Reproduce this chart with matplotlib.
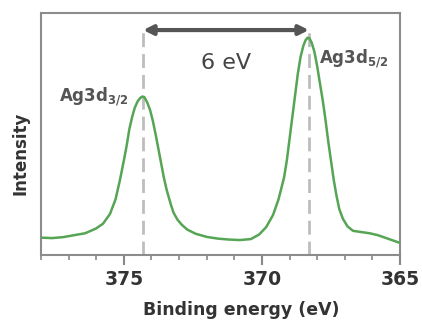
import matplotlib
matplotlib.use("Agg")
import matplotlib.pyplot as plt

plt.rcParams['font.family'] = ['DejaVu Sans']

# XPS Ag 3d spectrum
energy = [378.0, 377.6, 377.2, 376.8, 376.4, 376.0, 375.75, 375.5, 375.3, 375.14,
          375.0, 374.9, 374.8, 374.7, 374.6, 374.5, 374.4, 374.33, 374.25, 374.15,
          374.05, 373.95, 373.85, 373.75, 373.65, 373.55, 373.45, 373.3, 373.2,
          373.05, 372.9, 372.7, 372.4, 372.0, 371.6, 371.2, 370.8, 370.4, 370.1,
          369.85, 369.6, 369.4, 369.2, 369.1, 369.0, 368.9, 368.8, 368.7, 368.6,
          368.5, 368.42, 368.35, 368.28, 368.2, 368.1, 368.0, 367.9, 367.8, 367.7,
          367.6, 367.5, 367.4, 367.3, 367.2, 367.07, 366.9, 366.7, 366.4, 366.1,
          365.8, 365.5, 365.25, 365.0]
intensity = [0.072, 0.070, 0.074, 0.082, 0.090, 0.110, 0.130, 0.170, 0.230, 0.310,
             0.390, 0.450, 0.520, 0.570, 0.610, 0.635, 0.650, 0.655, 0.652, 0.630,
             0.600, 0.555, 0.500, 0.440, 0.380, 0.320, 0.270, 0.210, 0.175,
             0.145, 0.125, 0.105, 0.088, 0.075, 0.068, 0.064, 0.062, 0.066, 0.085,
             0.115, 0.165, 0.230, 0.320, 0.390, 0.480, 0.570, 0.660, 0.750, 0.820,
             0.865, 0.888, 0.898, 0.896, 0.878, 0.840, 0.780, 0.710, 0.640, 0.560,
             0.470, 0.390, 0.310, 0.245, 0.190, 0.150, 0.118, 0.100, 0.095, 0.090,
             0.082, 0.070, 0.060, 0.050]

peak_32 = 374.3
peak_52 = 368.3
xticks = [375, 370, 365]

fig = plt.figure(figsize=(4.22, 3.2), dpi=100)
ax = fig.add_axes([0.097, 0.203, 0.851, 0.756])

ax.plot(energy, intensity, color='#55a555', lw=1.8, zorder=3)

# dashed guides at the peak positions
for e in (peak_32, peak_52):
    ax.plot([e, e], [0, 0.93], color='#bdbdbd', lw=2.0, ls=(0, (5, 2.5)), zorder=2)

# separation arrow
ax.annotate('', xy=(peak_52, 0.93), xytext=(peak_32, 0.93),
            arrowprops=dict(arrowstyle='<|-|>', color='#555555', lw=3,
                            mutation_scale=14, shrinkA=0, shrinkB=0))
ax.text((peak_32 + peak_52) / 2, 0.795, '%d eV' % round(peak_32 - peak_52),
        ha='center', va='center', fontsize=16, color='#444444')

ax.text(peak_32 + 0.55, 0.655, r'Ag3d$_{\mathregular{3/2}}$', ha='right', va='center',
        fontsize=12, color='#555555', fontweight='bold')
ax.text(peak_52 - 0.35, 0.81, r'Ag3d$_{\mathregular{5/2}}$', ha='left', va='center',
        fontsize=12, color='#555555', fontweight='bold')

ax.set_xlim(378, 365)
ax.set_ylim(0, 1)
ax.set_xticks(xticks)
ax.set_xticks(range(365, 379), minor=True)
ax.set_yticks([])
ax.tick_params(axis='x', which='major', length=7, width=1.5, color='#888888',
               labelsize=13.5, labelcolor='#333333', pad=4)
ax.tick_params(axis='x', which='minor', length=3.5, width=1.2, color='#888888')
for lbl in ax.get_xticklabels():
    lbl.set_fontweight('bold')
for sp in ax.spines.values():
    sp.set_color('#8c8c8c')
    sp.set_linewidth(1.5)

ax.set_xlabel('Binding energy (eV)', fontsize=12.5, fontweight='bold', color='#333333')
ax.xaxis.set_label_coords(0.557, -0.19)
ax.set_ylabel('Intensity', fontsize=12, fontweight='bold', color='#333333')
ax.yaxis.set_label_coords(-0.033, 0.42)

plt.savefig('out.png', dpi=100)
